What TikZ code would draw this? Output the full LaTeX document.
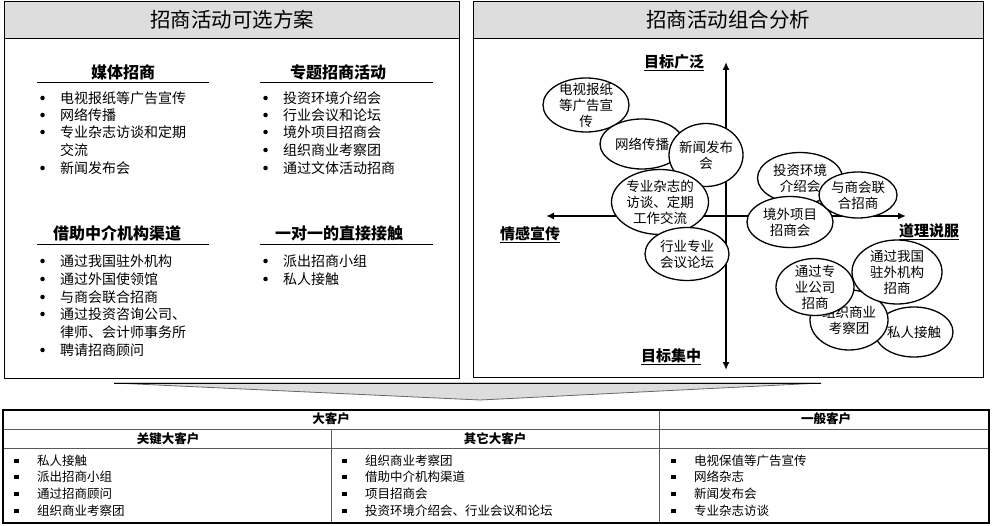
\documentclass[tikz,border=0pt]{standalone}
\usepackage{fontspec}
\setmainfont{Noto Sans CJK SC}
\usetikzlibrary{shapes.geometric,arrows.meta}
\definecolor{barGray}{HTML}{DDDDDD}

\tikzset{
  plan/.style={
    x=1pt, y=-1pt,
    panel/.style={draw=black, line width=0.8pt},
    bar/.style={draw=black, line width=0.8pt, fill=barGray},
    rule/.style={line width=0.9pt},
    grid/.style={draw=black!65, line width=0.6pt}
  }
}

\begin{document}
\begin{tikzpicture}[plan]
        \tikzstyle{title}=[inner sep=0pt, font=\fontsize{20.5}{24}\selectfont]
        \tikzstyle{head}=[inner sep=0pt, font=\bfseries\fontsize{16}{19}\selectfont]
        \tikzstyle{point}=[anchor=west, inner sep=0pt, font=\fontsize{14}{17}\selectfont,
            label={[circle, fill=black, inner sep=1.6pt, label distance=15pt]left:{}}]
        \tikzstyle{cont}=[anchor=west, inner sep=0pt, font=\fontsize{14}{17}\selectfont]
        \tikzstyle{bubble}=[ellipse, draw, line width=1.3pt, fill=white, inner sep=0pt]
        \tikzstyle{inbubble}=[align=center, inner sep=0pt, font=\fontsize{13.5}{16}\selectfont]
        \tikzstyle{axis}=[line width=1.6pt, {Latex[length=8pt,width=7pt]}-{Latex[length=8pt,width=7pt]}]
        \tikzstyle{pole}=[inner sep=0pt, font=\bfseries\fontsize{15}{18}\selectfont]
        \tikzstyle{cell}=[inner sep=0pt, font=\bfseries\fontsize{12.5}{15}\selectfont]
        \tikzstyle{entry}=[anchor=west, inner sep=0pt, font=\fontsize{12.5}{15}\selectfont,
            label={[fill=black, inner sep=2.3pt, label distance=18pt]left:{}}]

        \useasboundingbox (0,0) rectangle (992,526);

        % left panel
        \draw[panel] (4,1) rectangle (459,378);
        \draw[bar] (4,1) rectangle (459,38);
        \node[title] (T_1) at (232,20) {招商活动可选方案};

        \node[head] (H_1) at (123,72) {媒体招商};
        \draw[rule] (37,82) -- (209,82);
        \node[point] (M_1) at (60,98)  {电视报纸等广告宣传};
        \node[point] (M_2) at (60,115) {网络传播};
        \node[point] (M_3) at (60,132) {专业杂志访谈和定期};
        \node[cont]  (M_4) at (60,150) {交流};
        \node[point] (M_5) at (60,168) {新闻发布会};

        \node[head] (H_2) at (338,72) {专题招商活动};
        \draw[rule] (260,82) -- (433,82);
        \node[point] (S_1) at (283,98)  {投资环境介绍会};
        \node[point] (S_2) at (283,115) {行业会议和论坛};
        \node[point] (S_3) at (283,132) {境外项目招商会};
        \node[point] (S_4) at (283,150) {组织商业考察团};
        \node[point] (S_5) at (283,168) {通过文体活动招商};

        \node[head] (H_3) at (117,233) {借助中介机构渠道};
        \draw[rule] (37,244) -- (209,244);
        \node[point] (A_1) at (60,261) {通过我国驻外机构};
        \node[point] (A_2) at (60,279) {通过外国使领馆};
        \node[point] (A_3) at (60,297) {与商会联合招商};
        \node[point] (A_4) at (60,314) {通过投资咨询公司、};
        \node[cont]  (A_5) at (60,332) {律师、会计师事务所};
        \node[point] (A_6) at (60,350) {聘请招商顾问};

        \node[head] (H_4) at (339,233) {一对一的直接接触};
        \draw[rule] (260,244) -- (433,244);
        \node[point] (D_1) at (283,261) {派出招商小组};
        \node[point] (D_2) at (283,279) {私人接触};

        % right panel
        \draw[panel] (473,1) rectangle (983,377);
        \draw[bar] (473,1) rectangle (983,38);
        \node[title] (T_2) at (728,20) {招商活动组合分析};

        \coordinate (N) at (726,62);
        \coordinate (S) at (726,370);
        \coordinate (W) at (546,216);
        \coordinate (E) at (906,216);
        \draw[axis] (S) -- (N);
        \draw[axis] (W) -- (E);
        \node[pole] (P_N) at (674,63)  {\underline{目标广泛}};
        \node[pole] (P_S) at (671,357) {\underline{目标集中}};
        \node[pole] (P_W) at (530,235) {\underline{情感宣传}};
        \node[pole] (P_E) at (929,232) {\underline{道理说服}};

        \node[bubble, minimum width=86, minimum height=54] (B_1) at (586,105) {};
        \node[inbubble] (L_1) at (B_1) {电视报纸\\等广告宣\\传};
        \node[bubble, minimum width=84, minimum height=50] (B_2) at (642,144) {};
        \node[inbubble] (L_2) at (B_2) {网络传播};
        \node[bubble, minimum width=74, minimum height=63] (B_3) at (706,155) {};
        \node[inbubble] (L_3) at (B_3) {新闻发布\\会};
        \node[bubble, minimum width=97, minimum height=65] (B_4) at (660,202) {};
        \node[inbubble] (L_4) at (B_4) {专业杂志的\\访谈、定期\\工作交流};
        \node[bubble, minimum width=84, minimum height=53] (B_5) at (687,254) {};
        \node[inbubble] (L_5) at (B_5) {行业专业\\会议论坛};
        \node[bubble, minimum width=85, minimum height=51] (B_6) at (800,178) {};
        \node[inbubble] (L_6) at (B_6) {投资环境\\介绍会};
        \node[bubble, minimum width=86, minimum height=51] (B_7) at (790,222) {};
        \node[inbubble] (L_7) at (B_7) {境外项目\\招商会};
        \node[bubble, minimum width=78, minimum height=46] (B_8) at (858,195) {};
        \node[inbubble] (L_8) at (B_8) {与商会联\\合招商};
        \node[bubble, minimum width=78, minimum height=50] (B_9) at (914,332) {};
        \node[inbubble] (L_9) at (B_9) {私人接触};
        \node[bubble, minimum width=78, minimum height=60] (B_10) at (849,320) {};
        \node[inbubble] (L_10) at (B_10) {组织商业\\考察团};
        \node[bubble, minimum width=90, minimum height=64] (B_11) at (897,272) {};
        \node[inbubble] (L_11) at (B_11) {通过我国\\驻外机构\\招商};
        \node[bubble, minimum width=78, minimum height=57] (B_12) at (815,287) {};
        \node[inbubble] (L_12) at (B_12) {通过专\\业公司\\招商};

        % funnel
        \draw[fill=barGray, draw=black!60, line width=0.8pt] (114,383) -- (821,383) -- (480,400) -- cycle;
        \draw[line width=0.9pt] (114,383) -- (821,383);

        % table
        \draw[grid] (3,429) -- (989,429);
        \draw[grid] (3,448) -- (989,448);
        \draw[grid] (331,429) -- (331,523);
        \draw[grid] (659,409) -- (659,523);
        \draw[line width=2.5pt] (3,410) rectangle (989,523);

        \node[cell] (C_1) at (331,419) {大客户};
        \node[cell] (C_2) at (826,419) {一般客户};
        \node[cell] (C_3) at (168,439) {关键大客户};
        \node[cell] (C_4) at (495,439) {其它大客户};

        \node[entry] (K_1) at (37,461) {私人接触};
        \node[entry] (K_2) at (37,477) {派出招商小组};
        \node[entry] (K_3) at (37,494) {通过招商顾问};
        \node[entry] (K_4) at (37,511) {组织商业考察团};

        \node[entry] (O_1) at (365,461) {组织商业考察团};
        \node[entry] (O_2) at (365,477) {借助中介机构渠道};
        \node[entry] (O_3) at (365,494) {项目招商会};
        \node[entry] (O_4) at (365,511) {投资环境介绍会、行业会议和论坛};

        \node[entry] (G_1) at (694,461) {电视保值等广告宣传};
        \node[entry] (G_2) at (694,477) {网络杂志};
        \node[entry] (G_3) at (694,494) {新闻发布会};
        \node[entry] (G_4) at (694,511) {专业杂志访谈};
    \end{tikzpicture}
\end{document}
